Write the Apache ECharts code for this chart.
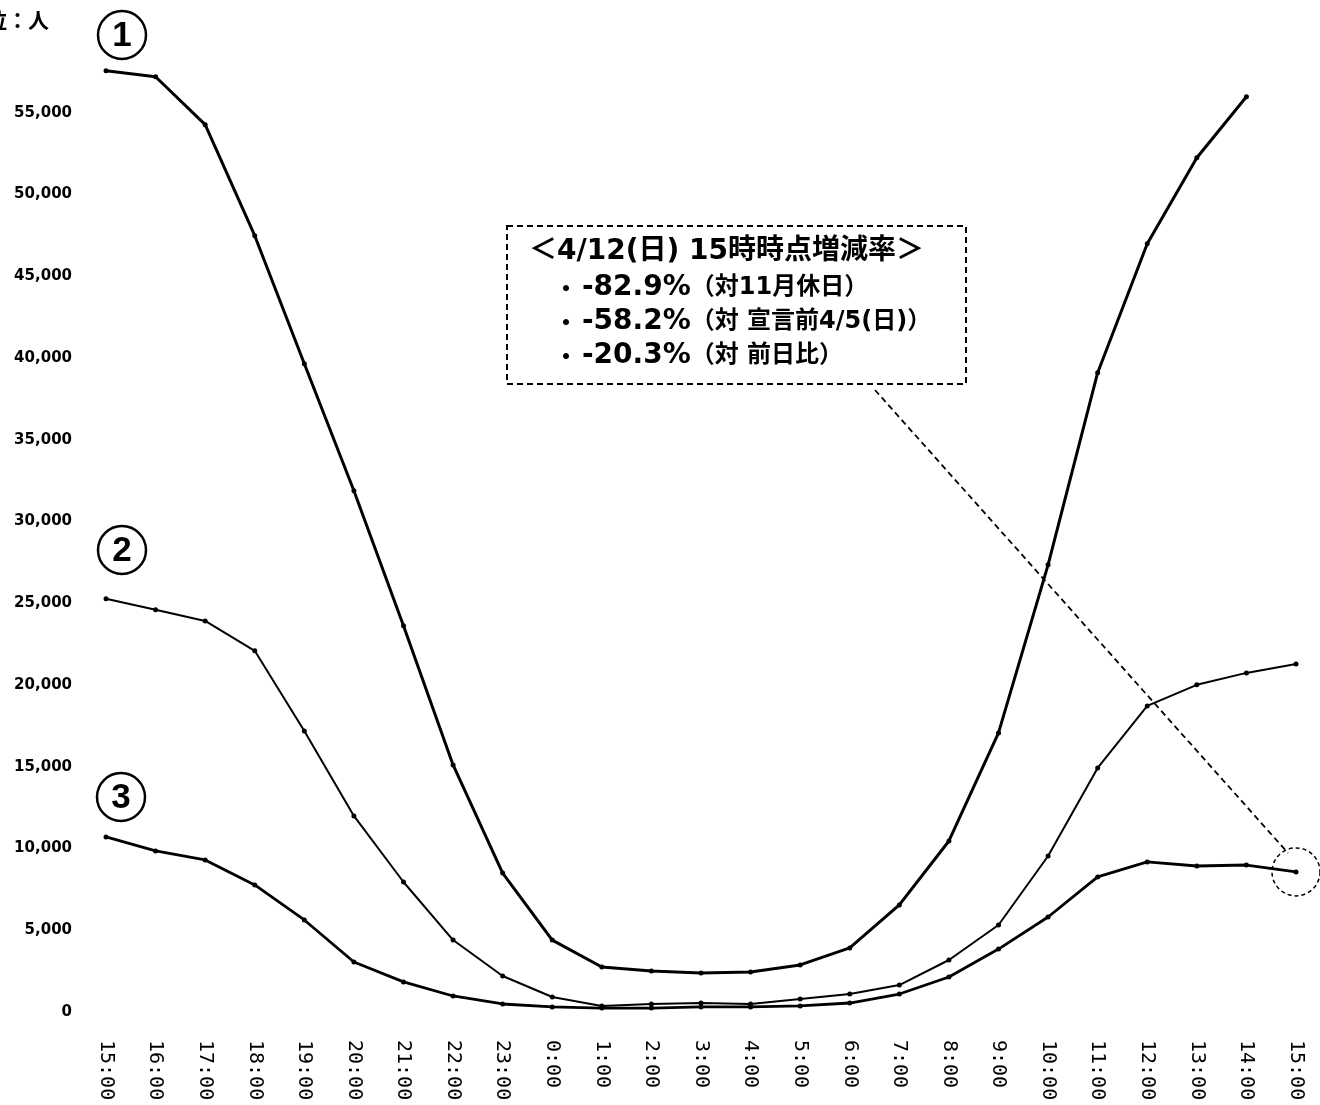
<!DOCTYPE html>
<html>
<head>
<meta charset="utf-8">
<script src="https://cdn.jsdelivr.net/npm/echarts@6/dist/echarts.min.js"></script>
<style>html,body{margin:0;padding:0;background:#fff;}#c{width:1320px;height:1105px;}</style>
</head>
<body>
<div id="c"></div>
<script>
var categories = ['15:00','16:00','17:00','18:00','19:00','20:00','21:00','22:00','23:00','0:00','1:00','2:00','3:00','4:00','5:00','6:00','7:00','8:00','9:00','10:00','11:00','12:00','13:00','14:00','15:00'];
var series1 = [57570,57200,54270,47480,39650,31880,23620,15110,8500,4400,2750,2510,2390,2450,2880,3920,6550,10460,17070,27350,39100,46990,52250,55980,null];
var series2 = [25270,24600,23920,22090,17190,11990,7950,4400,2200,920,370,490,550,490,800,1100,1650,3180,5320,9540,14930,18720,20010,20740,21290];
var series3 = [10710,9850,9300,7770,5630,3060,1840,980,490,310,240,240,310,310,370,550,1100,2140,3850,5810,8260,9180,8930,8990,8570];
var yTicks = [0,5000,10000,15000,20000,25000,30000,35000,40000,45000,50000,55000];
var unitLabel = '単位：人';
var noteTitle = '＜4/12(日) 15時時点増減率＞';
var notes = [['-82.9%','（対11月休日）'],['-58.2%','（対 宣言前4/5(日)）'],['-20.3%','（対 前日比）']];

var chart = echarts.init(document.getElementById('c'));
function fmt(v){ return v.toString().replace(/\B(?=(\d{3})+(?!\d))/g, ','); }
var cjk = '"Noto Sans CJK JP", sans-serif';
var mix = '"DejaVu Sans", "Noto Sans CJK JP", sans-serif';

var graphics = [
  {type:'text', x:49, y:20, style:{text:unitLabel, font:'bold 21px '+cjk, fill:'#000', align:'right', verticalAlign:'middle'}}
];
var circ = [['1',122,35],['2',122,550],['3',121,797]];
circ.forEach(function(c){
  graphics.push({type:'circle', shape:{cx:c[1], cy:c[2], r:24}, style:{fill:'none', stroke:'#000', lineWidth:2.5}});
  graphics.push({type:'text', x:c[1], y:c[2]+1, style:{text:c[0], font:'bold 35px "Liberation Sans", sans-serif', fill:'#000', align:'center', verticalAlign:'middle'}});
});
graphics.push({type:'rect', shape:{x:507,y:226,width:459,height:158}, style:{fill:'none', stroke:'#000', lineWidth:2, lineDash:[6,4]}});
graphics.push({type:'text', x:529, y:252, style:{text:noteTitle, font:'bold 28px '+mix, fill:'#000', verticalAlign:'middle'}});
var ny = [288,322,356];
notes.forEach(function(n,i){
  graphics.push({type:'text', x:554, y:ny[i], style:{
    text:'{d|・}{b|'+n[0]+'}{s|'+n[1]+'}', verticalAlign:'middle', fill:'#000',
    rich:{d:{font:'bold 24px '+cjk, fill:'#000', padding:[0,4,0,0]}, b:{font:'bold 28px '+mix, fill:'#000'}, s:{font:'bold 24px '+mix, fill:'#000'}}
  }});
});
graphics.push({type:'line', shape:{x1:875,y1:390,x2:1288,y2:853}, style:{stroke:'#000', lineWidth:1.8, lineDash:[6,4]}});

var lineBase = function(name, data, w){
  return {name:name, type:'line', data:data, symbol:'circle', symbolSize:5, showSymbol:true,
    lineStyle:{color:'#000', width:w}, itemStyle:{color:'#000'}, silent:true, animation:false};
};
var s3 = lineBase('③', series3, 2.8);
s3.markPoint = {symbol:'circle', symbolSize:48, silent:true, label:{show:false},
  itemStyle:{color:'rgba(0,0,0,0)', borderColor:'#000', borderWidth:1.5, borderType:[4,3]},
  data:[{coord:[categories.length-1, series3[series3.length-1]]}]};

chart.setOption({
  backgroundColor:'#fff',
  animation:false,
  grid:{left:106, right:24, top:31, bottom:93, containLabel:false},
  xAxis:{type:'category', data:categories, boundaryGap:false,
    axisLine:{show:false}, axisTick:{show:false}, splitLine:{show:false},
    axisLabel:{rotate:-90, margin:28, interval:0, color:'#000', fontSize:20, fontFamily:'"DejaVu Sans Mono", monospace'}},
  yAxis:{type:'value', min:0, max:60000, interval:5000,
    axisLine:{show:false}, axisTick:{show:false}, splitLine:{show:false},
    axisLabel:{margin:34, color:'#000', fontSize:15, fontWeight:'bold', fontFamily:'"DejaVu Sans", sans-serif',
      formatter:function(v){ return yTicks.indexOf(v) >= 0 ? fmt(v) : ''; }}},
  series:[lineBase('①', series1, 3), lineBase('②', series2, 2), s3],
  graphic:graphics
});
</script>
</body>
</html>
